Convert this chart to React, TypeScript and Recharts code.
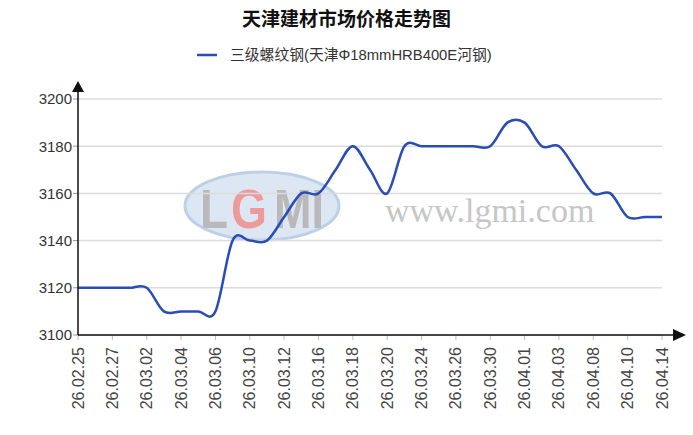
import { CartesianGrid, Line, LineChart, XAxis, YAxis } from "recharts";

const W = 693;
const H = 435;
const MARGIN = { top: 99, right: 31, bottom: 0, left: 0 };
const Y_AXIS_W = 78;
const X_AXIS_H = 100;

const TITLE = "天津建材市场价格走势图";
const SERIES_NAME = "三级螺纹钢(天津Φ18mmHRB400E河钢)";
const LINE_COLOR = "#2a4db5";

const dates = [
  "26.02.25", "26.02.26", "26.02.27", "26.02.28", "26.03.02", "26.03.03",
  "26.03.04", "26.03.05", "26.03.06", "26.03.09", "26.03.10", "26.03.11",
  "26.03.12", "26.03.13", "26.03.16", "26.03.17", "26.03.18", "26.03.19",
  "26.03.20", "26.03.23", "26.03.24", "26.03.25", "26.03.26", "26.03.27",
  "26.03.30", "26.03.31", "26.04.01", "26.04.02", "26.04.03", "26.04.07",
  "26.04.08", "26.04.09", "26.04.10", "26.04.13", "26.04.14",
];

const prices = [
  3120, 3120, 3120, 3120, 3120, 3110, 3110, 3110, 3110, 3140, 3140, 3140,
  3150, 3160, 3160, 3170, 3180, 3170, 3160, 3180, 3180, 3180, 3180, 3180,
  3180, 3190, 3190, 3180, 3180, 3170, 3160, 3160, 3150, 3150, 3150,
];

const yTicks = [3100, 3120, 3140, 3160, 3180, 3200];

const data = dates.map((date, i) => ({ date, price: prices[i] }));

// catmull-rom spline, the original chart overshoots a little at the corners
function cardinalCurve(context: any) {
  let pts: number[][] = [];
  return {
    areaStart() {},
    areaEnd() {},
    lineStart() {
      pts = [];
    },
    point(x: number, y: number) {
      pts.push([+x, +y]);
    },
    lineEnd() {
      if (!pts.length) return;
      context.moveTo(pts[0][0], pts[0][1]);
      const k = 1 / 6;
      for (let i = 0; i < pts.length - 1; i++) {
        const p0 = pts[i - 1] || pts[i];
        const p1 = pts[i];
        const p2 = pts[i + 1];
        const p3 = pts[i + 2] || p2;
        context.bezierCurveTo(
          p1[0] + (p2[0] - p0[0]) * k,
          p1[1] + (p2[1] - p0[1]) * k,
          p2[0] - (p3[0] - p1[0]) * k,
          p2[1] - (p3[1] - p1[1]) * k,
          p2[0],
          p2[1]
        );
      }
    },
  };
}

function XTick({ x, y, payload }: any) {
  return (
    <text
      x={x}
      y={y}
      transform={`rotate(-90 ${x} ${y})`}
      textAnchor="end"
      dominantBaseline="central"
      fontSize={16}
      fill="#444"
      fontFamily="Liberation Sans, Arial, sans-serif"
    >
      {payload.value}
    </text>
  );
}

const logoFont = {
  fontSize: 56,
  fontWeight: "bold" as const,
  fontFamily: "Liberation Sans, Arial, sans-serif",
};

export default function App() {
  const plotLeft = MARGIN.left + Y_AXIS_W;
  const plotBottom = H - MARGIN.bottom - X_AXIS_H;

  return (
    <div style={{ position: "absolute", left: 0, top: 0, width: W, height: H, background: "#fff" }}>
      {/* watermark */}
      <svg width={W} height={H} style={{ position: "absolute", left: 0, top: 0 }}>
        <ellipse cx={262} cy={206} rx={77} ry={34} fill="#dde7f3" stroke="#bcd0e8" strokeWidth={3} />
        <text x={200} y={228} {...logoFont} textLength={28} lengthAdjust="spacingAndGlyphs" fill="#b9b9b9">
          L
        </text>
        <text x={231} y={228} {...logoFont} textLength={36} lengthAdjust="spacingAndGlyphs" fill="#ec9a9a">
          G
        </text>
        <text x={274} y={228} {...logoFont} textLength={50} lengthAdjust="spacingAndGlyphs" fill="#b9b9b9">
          MI
        </text>
        <text x={385} y={222} fontSize={34} fontFamily="Liberation Serif, serif" fill="#c6c6c6">
          www.lgmi.com
        </text>
      </svg>

      <div style={{ position: "absolute", left: 0, top: 0 }}>
        <LineChart width={W} height={H} data={data} margin={MARGIN}>
          <CartesianGrid vertical={false} stroke="#dcdcdc" strokeWidth={1.5} />
          <XAxis
            dataKey="date"
            height={X_AXIS_H}
            interval={1}
            axisLine={false}
            tickLine={{ stroke: "#bbb" }}
            tickSize={5}
            tickMargin={7}
            tick={<XTick />}
          />
          <YAxis
            width={Y_AXIS_W}
            domain={[3100, 3200]}
            ticks={yTicks}
            axisLine={false}
            tickLine={{ stroke: "#999" }}
            tickSize={5}
            tickMargin={1}
            tick={{ fontSize: 15, fill: "#333", fontFamily: "Liberation Sans, Arial, sans-serif" }}
          />
          <Line
            dataKey="price"
            name={SERIES_NAME}
            type={cardinalCurve as any}
            stroke={LINE_COLOR}
            strokeWidth={2.5}
            dot={false}
            isAnimationActive={false}
          />
        </LineChart>
      </div>

      {/* title, legend and axes with arrows */}
      <svg width={W} height={H} style={{ position: "absolute", left: 0, top: 0, pointerEvents: "none" }}>
        <text
          x={W / 2}
          y={17}
          textAnchor="middle"
          dominantBaseline="central"
          fontSize={19}
          fontWeight="bold"
          fontFamily="Noto Sans CJK SC, sans-serif"
          fill="#111"
        >
          {TITLE}
        </text>
        <line x1={197} x2={217} y1={55} y2={55} stroke={LINE_COLOR} strokeWidth={2.5} />
        <text
          x={230}
          y={55}
          dominantBaseline="central"
          fontSize={14.8}
          fontFamily="Liberation Sans, Noto Sans CJK SC, sans-serif"
          fill="#333"
        >
          {SERIES_NAME}
        </text>

        <line x1={plotLeft} x2={plotLeft} y1={plotBottom} y2={90} stroke="#111" strokeWidth={1.5} />
        <polygon
          points={`${plotLeft},81 ${plotLeft - 6},92 ${plotLeft + 6},92`}
          fill="#111"
        />
        <line x1={plotLeft} x2={675} y1={plotBottom} y2={plotBottom} stroke="#111" strokeWidth={1.5} />
        <polygon
          points={`686,${plotBottom} 673,${plotBottom - 6} 673,${plotBottom + 6}`}
          fill="#111"
        />
      </svg>
    </div>
  );
}
